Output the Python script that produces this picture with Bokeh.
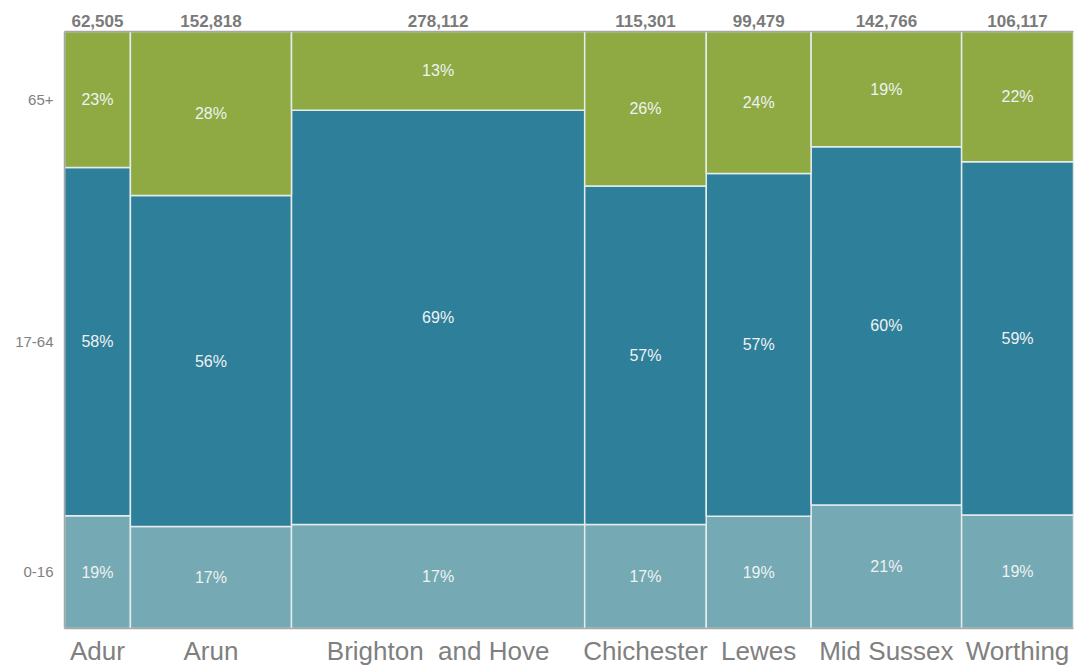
from bokeh.plotting import figure
from bokeh.models import ColumnDataSource, FixedTicker, CustomJSTickFormatter, LinearAxis, Range1d
from bokeh.core.properties import value
from bokeh.embed import file_html
from bokeh.resources import INLINE

districts = ["Adur", "Arun", "Brighton\u00a0\u00a0and Hove", "Chichester", "Lewes", "Mid Sussex", "Worthing"]
population = [62505, 152818, 278112, 115301, 99479, 142766, 106117]
age_groups = ["0-16", "17-64", "65+"]
share_0_16 = [0.189, 0.1710, 0.174, 0.174, 0.188, 0.207, 0.190]
share_17_64 = [0.583, 0.5552, 0.694, 0.567, 0.574, 0.600, 0.592]
share_65_plus = [0.228, 0.2752, 0.132, 0.259, 0.238, 0.193, 0.218]
colors = ["#75a9b3", "#2e7f99", "#8faa42"]

total = sum(population)
lefts, rights, centers = [], [], []
acc = 0
for pop in population:
    lefts.append(acc)
    rights.append(acc + pop)
    centers.append(acc + pop / 2)
    acc += pop

shares = [share_0_16, share_17_64, share_65_plus]

p = figure(width=1075, height=668, output_backend="svg", toolbar_location=None,
           x_range=Range1d(0, total), y_range=Range1d(0, 1),
           min_border_left=64, min_border_right=2, min_border_top=31, min_border_bottom=40)
p.xgrid.visible = False
p.ygrid.visible = False
p.outline_line_color = None
p.background_fill_color = "white"

font = "Liberation Sans"
txt_src = dict(x=[], y=[], t=[])
for gi, grp in enumerate(age_groups):
    bottoms, tops = [], []
    for di in range(len(districts)):
        s = [shares[k][di] for k in range(3)]
        tot = sum(s)
        b = sum(s[:gi]) / tot
        t = sum(s[:gi + 1]) / tot
        bottoms.append(b)
        tops.append(t)
        txt_src["x"].append(centers[di])
        txt_src["y"].append((b + t) / 2)
        txt_src["t"].append(f"{round(shares[gi][di] * 100)}%")
    src = ColumnDataSource(dict(left=lefts, right=rights, bottom=bottoms, top=tops))
    p.quad(left="left", right="right", bottom="bottom", top="top", source=src,
           fill_color=colors[gi], line_color="#e4ecee", line_width=1.5)

p.text(x="x", y="y", text="t", source=ColumnDataSource(txt_src),
       text_align="center", text_baseline="middle", text_color="#eef2f3",
       text_font=value(font), text_font_size="16px")

axis_color = "#a6a6a6"
label_color = "#808080"


def style_axis(ax):
    ax.major_tick_line_color = None
    ax.minor_tick_line_color = None
    ax.major_tick_out = 0
    ax.major_tick_in = 0
    ax.minor_tick_out = 0
    ax.minor_tick_in = 0
    ax.axis_line_color = axis_color
    ax.axis_line_width = 1.5
    ax.major_label_text_font = font


# bottom axis: district names
xa = p.xaxis[0]
style_axis(xa)
xa.ticker = FixedTicker(ticks=centers)
xa.formatter = CustomJSTickFormatter(args=dict(labels=districts), code="return labels[index];")
xa.major_label_text_font_size = "26px"
xa.major_label_text_color = label_color
xa.major_label_standoff = 7

# top axis: population totals
pop_labels = [f"{v:,}" for v in population]
ta = LinearAxis(ticker=FixedTicker(ticks=centers),
                formatter=CustomJSTickFormatter(args=dict(labels=pop_labels), code="return labels[index];"))
style_axis(ta)
ta.major_label_text_font_size = "17px"
ta.major_label_text_font_style = "bold"
ta.major_label_text_color = "#7a7a7a"
ta.major_label_standoff = 5
p.add_layout(ta, "above")

# left axis: age groups at first column's segment centers
s0 = [shares[k][0] for k in range(3)]
t0 = sum(s0)
ycent = [(sum(s0[:i]) + s0[i] / 2) / t0 for i in range(3)]
ya = p.yaxis[0]
style_axis(ya)
ya.ticker = FixedTicker(ticks=ycent)
ya.formatter = CustomJSTickFormatter(args=dict(labels=age_groups), code="return labels[index];")
ya.major_label_text_font_size = "15px"
ya.major_label_text_color = label_color
ya.major_label_standoff = 11
ya.major_label_orientation = "horizontal"

open("out.html", "w").write(file_html(p, INLINE))
